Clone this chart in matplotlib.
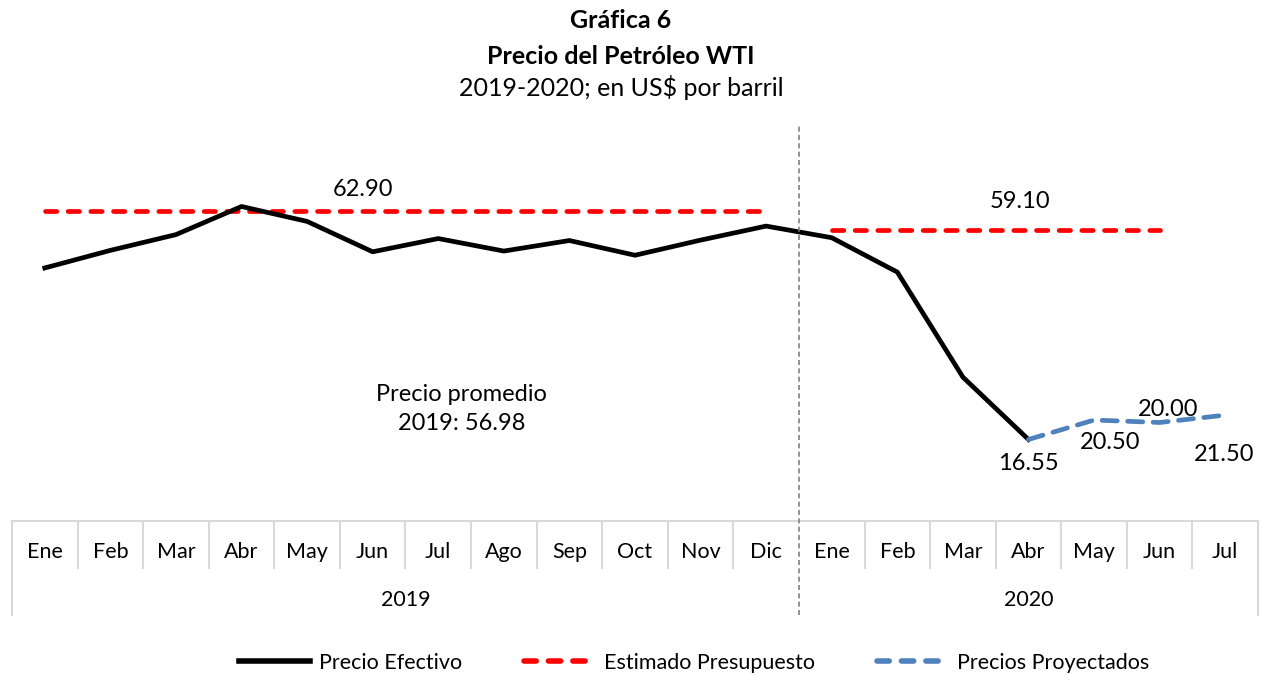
import matplotlib
matplotlib.use("Agg")
import matplotlib.pyplot as plt
from matplotlib.lines import Line2D
import numpy as np

plt.rcParams["font.family"] = ["Lato", "DejaVu Sans"]

# ── Data ──────────────────────────────────────────────────────────────────────
months = ["Ene", "Feb", "Mar", "Abr", "May", "Jun", "Jul", "Ago", "Sep", "Oct", "Nov", "Dic",
          "Ene", "Feb", "Mar", "Abr", "May", "Jun", "Jul"]
years = ["2019", "2020"]
year_sizes = [12, 7]

precio_efectivo = [51.38, 54.95, 58.15, 63.86, 60.83, 54.66, 57.35, 54.81, 56.95, 53.96,
                   57.03, 59.88, 57.52, 50.54, 29.21, 16.55]
proyectado_idx = [15, 16, 17, 18]
precio_proyectado = [16.55, 20.50, 20.00, 21.50]

presup_2019 = 62.90
presup_2020 = 59.10
presup_2019_idx = list(range(0, 12))
presup_2020_idx = list(range(12, 18))
promedio_2019 = 56.98

# ── Figure ────────────────────────────────────────────────────────────────────
W, H = 1262, 675
fig = plt.figure(figsize=(W / 100, H / 100), dpi=100)
ax_top, ax_bot = 127, 521
ax = fig.add_axes([12 / W, 1 - ax_bot / H, 1246 / W, (ax_bot - ax_top) / H])
ax.set_xlim(-0.5, len(months) - 0.5)
ax.set_ylim(0, 80)
ax.axis("off")

def py(pix):
    """pixel row -> axes fraction"""
    return (ax_bot - pix) / (ax_bot - ax_top)

RED = "#ff0000"
BLUE = "#4f81bd"
LW = 3.4
RED_DASH = (2.4, 2.4)
BLUE_DASH = (3.2, 2.2)
LBL = 17

ax.plot(presup_2019_idx, [presup_2019] * len(presup_2019_idx), color=RED, lw=LW,
        dashes=RED_DASH, dash_capstyle="round", zorder=3)
ax.plot(presup_2020_idx, [presup_2020] * len(presup_2020_idx), color=RED, lw=LW,
        dashes=RED_DASH, dash_capstyle="round", zorder=3)
ax.plot(range(len(precio_efectivo)), precio_efectivo, color="black", lw=LW,
        solid_joinstyle="round", zorder=4)
ax.plot(proyectado_idx, precio_proyectado, color=BLUE, lw=LW,
        dashes=BLUE_DASH, dash_capstyle="round", zorder=4)

# data labels
ax.text(4.85, 67.4, f"{presup_2019:.2f}", ha="center", va="center", fontsize=LBL)
ax.text(14.87, 64.9, f"{presup_2020:.2f}", ha="center", va="center", fontsize=LBL)
ax.text(6.36, 22.7, f"Precio promedio\n2019: {promedio_2019:.2f}", ha="center", va="center",
        fontsize=LBL, linespacing=1.5)
ax.text(15.0, 11.7, f"{precio_proyectado[0]:.2f}", ha="center", va="center", fontsize=LBL)
ax.text(16.24, 16.0, f"{precio_proyectado[1]:.2f}", ha="center", va="center", fontsize=LBL)
ax.text(17.13, 22.7, f"{precio_proyectado[2]:.2f}", ha="center", va="center", fontsize=LBL)
ax.text(17.99, 13.6, f"{precio_proyectado[3]:.2f}", ha="center", va="center", fontsize=LBL)

# ── Category axis (two levels) ───────────────────────────────────────────────
tr = ax.get_xaxis_transform()
GRID = "#d9d9d9"
ax.plot([-0.5, len(months) - 0.5], [0, 0], color=GRID, lw=1.5, transform=tr, clip_on=False)
year_edges = np.cumsum([0] + year_sizes) - 0.5
for b in np.arange(len(months) + 1) - 0.5:
    if b == year_edges[1]:
        continue
    bottom = py(615) if b in year_edges else py(568)
    ax.plot([b, b], [0, bottom], color=GRID, lw=1.5, transform=tr, clip_on=False)
for i, m in enumerate(months):
    ax.text(i, py(552), m, ha="center", va="center", fontsize=15.5, transform=tr)
start = 0
for y, n in zip(years, year_sizes):
    ax.text(start + (n - 1) / 2, py(600), y, ha="center", va="center", fontsize=15.5,
            transform=tr)
    start += n

# dashed separator between years
ax.plot([year_edges[1]] * 2, [py(615), py(125)], color="#808080", lw=1.2,
        dashes=(3, 2), transform=tr, clip_on=False, zorder=5)

# ── Titles ────────────────────────────────────────────────────────────────────
cx = 621 / W
fig.text(cx, 1 - 20 / H, "Gráfica 6", ha="center", va="center", fontsize=18, fontweight="bold")
fig.text(cx, 1 - 56 / H, "Precio del Petróleo WTI", ha="center", va="center", fontsize=18,
         fontweight="bold")
fig.text(cx, 1 - 88 / H, "2019-2020; en US$ por barril", ha="center", va="center", fontsize=18)

# ── Legend ────────────────────────────────────────────────────────────────────
handles = [
    Line2D([], [], color="black", lw=4),
    Line2D([], [], color=RED, lw=4, dashes=(2.2, 2.2), dash_capstyle="round"),
    Line2D([], [], color=BLUE, lw=4, dashes=(2.2, 2.2), dash_capstyle="round"),
]
labels = ["Precio Efectivo", "Estimado Presupuesto", "Precios Proyectados"]
fig.legend(handles, labels, loc="center", bbox_to_anchor=(694 / W, 1 - 663 / H), ncol=3,
           frameon=False, fontsize=15.5, handlelength=3.3, handletextpad=0.4,
           columnspacing=2.9)

fig.savefig("out.png", dpi=100)
